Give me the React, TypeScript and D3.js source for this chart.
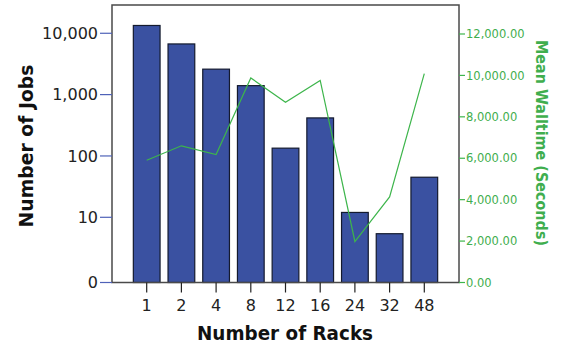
import React from 'react';
import * as d3 from 'd3';

const racks = ['1', '2', '4', '8', '12', '16', '24', '32', '48'];
const jobs = [13400, 6700, 2600, 1400, 134, 417, 12, 5.4, 45];
const walltime = [5900, 6600, 6180, 9880, 8700, 9760, 1980, 4130, 10090];
const leftTicks = [10, 100, 1000, 10000];
const rightTicks = [0, 2000, 4000, 6000, 8000, 10000, 12000];

const W = 561;
const H = 346;
const plot = { left: 112, right: 459, top: 5, bottom: 282.5 };

const BAR = '#3a51a1';
const GREEN = '#3db54b';
const GREEN_TEXT = '#3fae4e';
const FONT = 'DejaVu Sans, Verdana, sans-serif';

export default function App() {
  const x = d3.scalePoint<string>().domain(racks).range([plot.left, plot.right]).padding(1);
  const step = x.step();
  const barW = step * 0.77;

  // log scale; the bottom of the axis is labelled "0"
  const yLeft = d3.scaleLog().domain([0.865, 28900]).range([plot.bottom, plot.top]);
  const yRight = d3.scaleLinear().domain([0, 13400]).range([plot.bottom, plot.top]);

  const line = d3.line<number>()
    .x((_, i) => x(racks[i]) as number)
    .y(d => yRight(d));

  const fmtLeft = d3.format(',');
  const fmtRight = d3.format(',.2f');

  return (
    <svg width={W} height={H} style={{ position: 'absolute', left: 0, top: 0, background: '#fff' }} fontFamily={FONT}>
      {/* bars */}
      {jobs.map((v, i) => (
        <rect
          key={racks[i]}
          x={(x(racks[i]) as number) - barW / 2}
          y={yLeft(v)}
          width={barW}
          height={plot.bottom - yLeft(v)}
          fill={BAR}
          stroke="#141a2e"
          strokeWidth={1.2}
        />
      ))}

      {/* walltime line */}
      <path d={line(walltime) || ''} fill="none" stroke={GREEN} strokeWidth={1.2} />

      {/* frame */}
      <rect
        x={plot.left}
        y={plot.top}
        width={plot.right - plot.left}
        height={plot.bottom - plot.top}
        fill="none"
        stroke="#4a4a4a"
        strokeWidth={1.5}
      />

      {/* left axis */}
      {leftTicks.map(t => (
        <g key={t} transform={`translate(0,${yLeft(t)})`}>
          <line x1={100} x2={plot.left} stroke="#4f62b8" strokeWidth={1.2} />
          <text x={98} dy="0.36em" textAnchor="end" fontSize={16} fill="#222">{fmtLeft(t)}</text>
        </g>
      ))}
      <g transform={`translate(0,${plot.bottom})`}>
        <line x1={100} x2={plot.left} stroke="#4f62b8" strokeWidth={1.2} />
        <text x={98} dy="0.36em" textAnchor="end" fontSize={16} fill="#222">0</text>
      </g>
      <text
        transform={`translate(33,146) rotate(-90)`}
        textAnchor="middle"
        fontSize={20}
        fontWeight="bold"
        fill="#111"
        textLength={163}
        lengthAdjust="spacingAndGlyphs"
      >
        Number of Jobs
      </text>

      {/* right axis */}
      {rightTicks.map(t => (
        <g key={t} transform={`translate(0,${yRight(t)})`}>
          <line x1={plot.right} x2={plot.right + 6} stroke={GREEN} strokeWidth={1.2} />
          <text x={plot.right + 7} dy="0.36em" fontSize={11.5} fill={GREEN_TEXT}>{fmtRight(t)}</text>
        </g>
      ))}
      <text
        transform={`translate(536,143) rotate(90)`}
        textAnchor="middle"
        fontSize={16}
        fontWeight="bold"
        fill={GREEN_TEXT}
        textLength={206}
        lengthAdjust="spacingAndGlyphs"
      >
        Mean Walltime (Seconds)
      </text>

      {/* x axis */}
      {racks.map(r => (
        <g key={r} transform={`translate(${x(r)},0)`}>
          <line y1={plot.bottom} y2={plot.bottom + 10} stroke="#222" strokeWidth={1.2} />
          <text y={311} textAnchor="middle" fontSize={16} fill="#222">{r}</text>
        </g>
      ))}
      <text
        x={285}
        y={340}
        textAnchor="middle"
        fontSize={19.5}
        fontWeight="bold"
        fill="#111"
        textLength={176}
        lengthAdjust="spacingAndGlyphs"
      >
        Number of Racks
      </text>
    </svg>
  );
}
